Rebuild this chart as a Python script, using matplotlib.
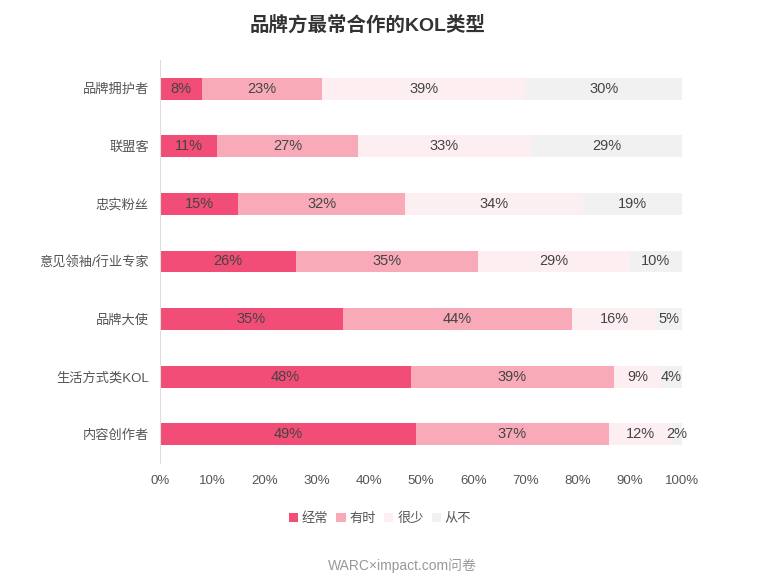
import numpy as np
import matplotlib.pyplot as plt

plt.rcParams['font.family'] = ['Liberation Sans', 'Noto Sans CJK SC', 'DejaVu Sans']

# dane
kategorie = ['品牌拥护者', '联盟客', '忠实粉丝', '意见领袖/行业专家', '品牌大使', '生活方式类KOL', '内容创作者']
jingchang = [8, 11, 15, 26, 35, 48, 49]
youshi = [23, 27, 32, 35, 44, 39, 37]
henshao = [39, 33, 34, 29, 16, 9, 12]
congbu = [30, 29, 19, 10, 5, 4, 2]
serie_nazwy = ['经常', '有时', '很少', '从不']
kolory = ['#f24d76', '#f9aab9', '#fdeff1', '#f1f1f1']
x_ticks = [0, 10, 20, 30, 40, 50, 60, 70, 80, 90, 100]

fig = plt.figure(figsize=(7.59, 5.82), dpi=100)
ax = fig.add_axes([0.2108, 0.2045, 0.6878, 0.6925])

y = np.arange(len(kategorie))
lewo = np.zeros(len(kategorie))
for nazwa, wartosci, kolor in zip(serie_nazwy, [jingchang, youshi, henshao, congbu], kolory):
    wartosci = np.array(wartosci)
    ax.barh(y, wartosci, left=lewo, height=0.38, color=kolor, label=nazwa)
    for yi, l, w in zip(y, lewo, wartosci):
        ax.text(l + w / 2, yi, f'{w}%', ha='center', va='center', fontsize=10.5, color='#444444')
    lewo = lewo + wartosci

ax.set_ylim(len(kategorie) - 0.5, -0.5)
ax.set_xlim(0, 100)
ax.set_yticks(y)
ax.set_yticklabels(kategorie, fontsize=9.5, color='#555555')
ax.set_xticks(x_ticks)
ax.set_xticklabels([f'{t}%' for t in x_ticks], fontsize=9.5, color='#555555')
ax.tick_params(axis='both', length=0)
ax.tick_params(axis='x', pad=9)
ax.tick_params(axis='y', pad=8)
for s in ['top', 'right', 'bottom']:
    ax.spines[s].set_visible(False)
ax.spines['left'].set_color('#dddddd')

fig.text(368 / 759, 1 - 25 / 582, '品牌方最常合作的KOL类型', ha='center', va='center',
         fontsize=14, fontweight='bold', color='#333333')

fig.legend(loc='center', bbox_to_anchor=(380 / 759, 1 - 519 / 582), ncol=4, frameon=False,
           handlelength=0.7, handleheight=0.7, handletextpad=0.3, columnspacing=0.6,
           fontsize=9.5, labelcolor='#555555')

fig.text(402 / 759, 1 - 566 / 582, 'WARC×impact.com问卷', ha='center', va='center',
         fontsize=10, color='#999999')

fig.savefig('out.png', dpi=100)
